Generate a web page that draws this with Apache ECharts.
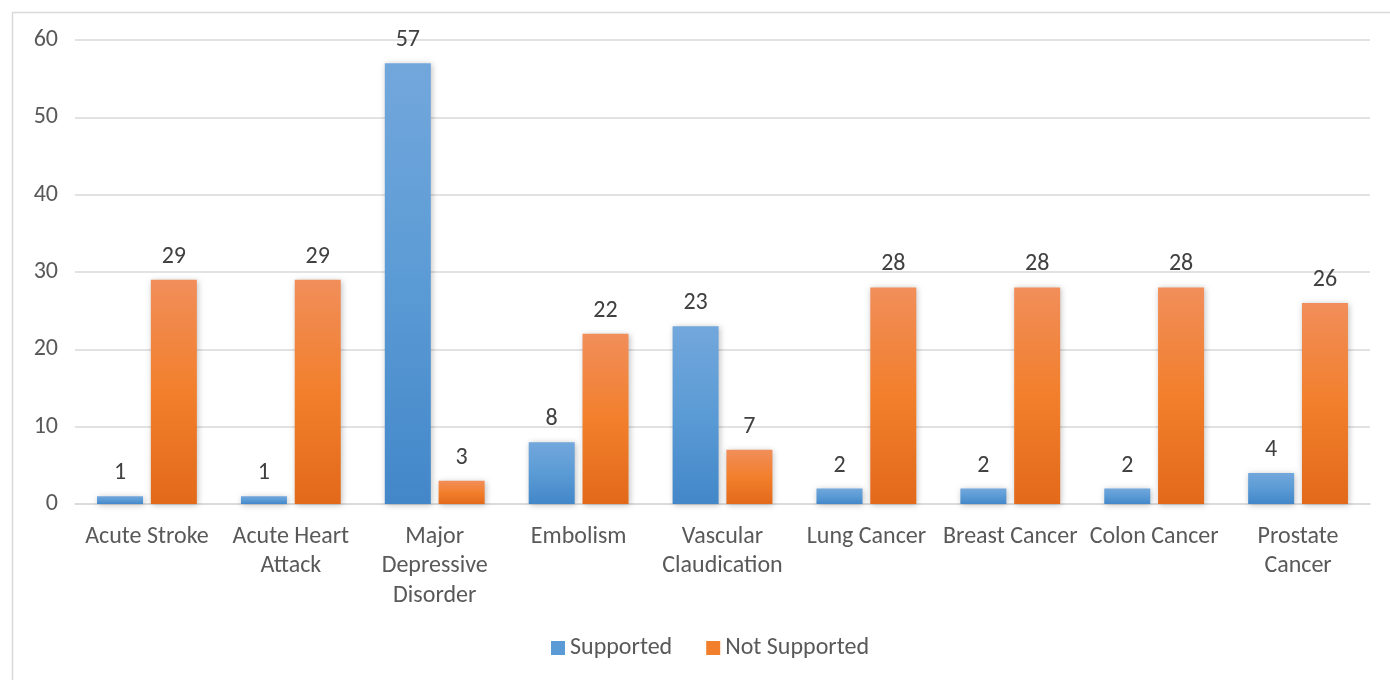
<!DOCTYPE html>
<html><head><meta charset="utf-8">
<script src="https://cdn.jsdelivr.net/npm/echarts@6/dist/echarts.min.js"></script>
<style>html,body{margin:0;padding:0;background:#fff}#c{width:1390px;height:680px}</style>
</head><body><div id="c"></div>
<script>
const categories = ['Acute Stroke','Acute Heart\nAttack','Major\nDepressive\nDisorder','Embolism','Vascular\nClaudication','Lung Cancer','Breast Cancer','Colon Cancer','Prostate\nCancer'];
const supported = [1,1,57,8,23,2,2,2,4];
const notSupported = [29,29,3,22,7,28,28,28,26];
const yTicks = [0,10,20,30,40,50,60];

const font = 'Carlito, "Liberation Sans", "Open Sans", sans-serif';
const fs = 24;
const blue = new echarts.graphic.LinearGradient(0,0,0,1,[{offset:0,color:'#72a7dc'},{offset:0.5,color:'#5b9bd5'},{offset:1,color:'#4387c9'}]);
const orange = new echarts.graphic.LinearGradient(0,0,0,1,[{offset:0,color:'#f18e5a'},{offset:0.5,color:'#f27f2c'},{offset:1,color:'#e2691a'}]);
const chart = echarts.init(document.getElementById('c'));
const lbl = {show:true,position:'top',distance:11,color:'#404040',fontSize:fs,fontFamily:font};
chart.setOption({
  animation:false,
  graphic:[{type:'rect',left:10,top:10,shape:{width:1400,height:700},style:{fill:'none',stroke:'#d9d9d9',lineWidth:1.5}}],
  legend:{bottom:15,left:546,itemWidth:14,itemHeight:14,itemGap:34,icon:'rect',
    textStyle:{color:'#595959',fontSize:fs,fontFamily:font,padding:[0,0,0,0]},
    data:[{name:'Supported',itemStyle:{color:'#5b9bd5'}},{name:'Not Supported',itemStyle:{color:'#f27f2c'}}]},
  grid:{left:75,right:20,top:40,bottom:176},
  xAxis:{type:'category',data:categories,
    axisLine:{lineStyle:{color:'#d9d9d9',width:1.5}},axisTick:{show:false},
    axisLabel:{color:'#595959',fontSize:fs,fontFamily:font,lineHeight:29.5,margin:18,interval:0}},
  yAxis:{type:'value',min:0,max:60,interval:10,
    axisLine:{show:false},axisTick:{show:false},
    splitLine:{lineStyle:{color:'#d9d9d9',width:1.5}},
    axisLabel:{color:'#595959',fontSize:fs,fontFamily:font,margin:17}},
  series:[
    {name:'Supported',type:'bar',data:supported,barWidth:46,barGap:'17%',
     itemStyle:{color:blue,shadowColor:'rgba(0,0,0,0.25)',shadowBlur:6,shadowOffsetX:1,shadowOffsetY:1},label:lbl},
    {name:'Not Supported',type:'bar',data:notSupported,barWidth:46,
     itemStyle:{color:orange,shadowColor:'rgba(0,0,0,0.25)',shadowBlur:6,shadowOffsetX:1,shadowOffsetY:1},label:lbl}
  ]
});
</script></body></html>
